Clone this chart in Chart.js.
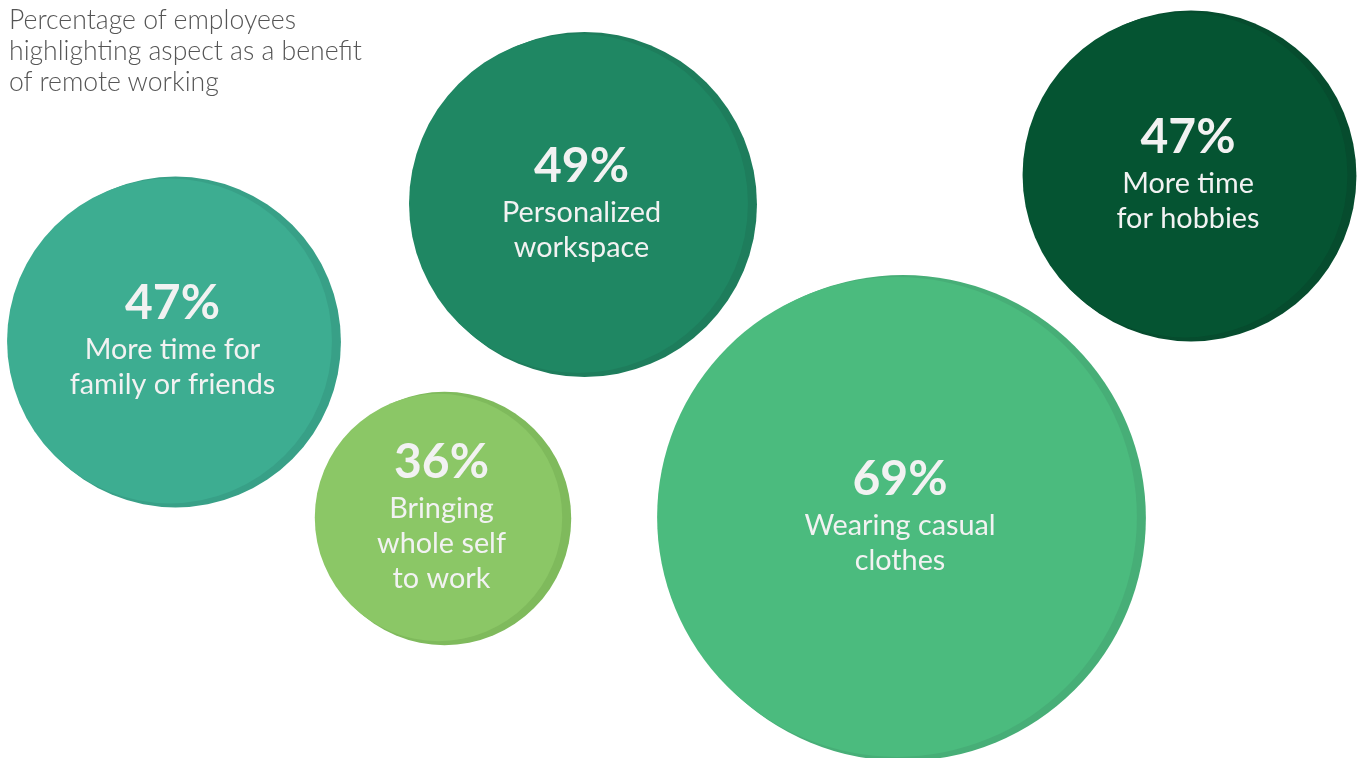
<!DOCTYPE html>
<html>
<head>
<meta charset="utf-8">
<script src="https://cdn.jsdelivr.net/npm/chart.js@4"></script>
<style>
  html, body { margin: 0; padding: 0; background: #fff; }
  #wrap { position: relative; width: 1359px; height: 758px; overflow: hidden; }
  #title {
    position: absolute; left: 9px; top: 4px;
    font-family: Lato, sans-serif; font-weight: 300; font-size: 26.6px;
    line-height: 31px; color: #555;
  }
</style>
</head>
<body>
<div id="wrap">
  <canvas id="chart" width="1359" height="758"></canvas>
  <div id="title">Percentage of employees<br>highlighting aspect as a benefit<br>of remote working</div>
</div>
<script>
// === Data ===
const benefits = [
  ["More time for", "family or friends"],
  ["Bringing", "whole self", "to work"],
  ["Personalized", "workspace"],
  ["Wearing casual", "clothes"],
  ["More time", "for hobbies"]
];
const shares = [47, 36, 49, 69, 47];
// where each bubble sits on the page (layout, not values)
const bubbleX = [175.5, 444.5, 584.5, 903, 1191];
const bubbleY = [342, 518.5, 204.5, 518, 176];

const fills   = ["#3dad91", "#8bc766", "#1f8763", "#4bbb7e", "#055432"];
const edges   = ["#38a087", "#7fba5c", "#1e7d5c", "#47ae77", "#064c2e"];
const pxPerPoint = 3.52;
const rim = 3;
const nudge = 6;

// darker disc underneath, lighter face nudged left so a rim shows on the right
const edgeData = shares.map((v, i) => ({ x: bubbleX[i], y: bubbleY[i], r: v * pxPerPoint }));
const faceData = shares.map((v, i) => ({ x: bubbleX[i] - nudge, y: bubbleY[i] - 1, r: v * pxPerPoint - rim }));

// === Labels inside bubbles ===
const bubbleLabels = {
  id: "bubbleLabels",
  afterDatasetsDraw(chart) {
    const ctx = chart.ctx;
    const pts = chart.getDatasetMeta(0).data;
    ctx.save();
    ctx.fillStyle = "#f2f2f2";
    ctx.textAlign = "center";
    ctx.textBaseline = "alphabetic";
    pts.forEach((pt, i) => {
      const lines = benefits[i];
      const cx = pt.x + 3;
      const top = pt.y - 22 - 17.5 * (lines.length - 2);
      ctx.font = "bold 48px Lato, sans-serif";
      ctx.fillText(shares[i] + "%", cx, top);
      ctx.font = "28.8px Lato, sans-serif";
      lines.forEach((ln, j) => {
        ctx.fillText(ln, cx, top + 40 + j * 35);
      });
    });
    ctx.restore();
  }
};

new Chart(document.getElementById("chart"), {
  type: "bubble",
  data: {
    datasets: [
      { data: faceData, backgroundColor: fills, borderWidth: 0 },
      { data: edgeData, backgroundColor: edges, borderWidth: 0 }
    ]
  },
  options: {
    responsive: false,
    animation: false,
    events: [],
    layout: { padding: 0, autoPadding: false },
    plugins: { legend: { display: false }, tooltip: { enabled: false } },
    scales: {
      x: { display: false, min: 0, max: 1359 },
      y: { display: false, min: 0, max: 758, reverse: true }
    }
  },
  plugins: [bubbleLabels]
});
</script>
</body>
</html>
